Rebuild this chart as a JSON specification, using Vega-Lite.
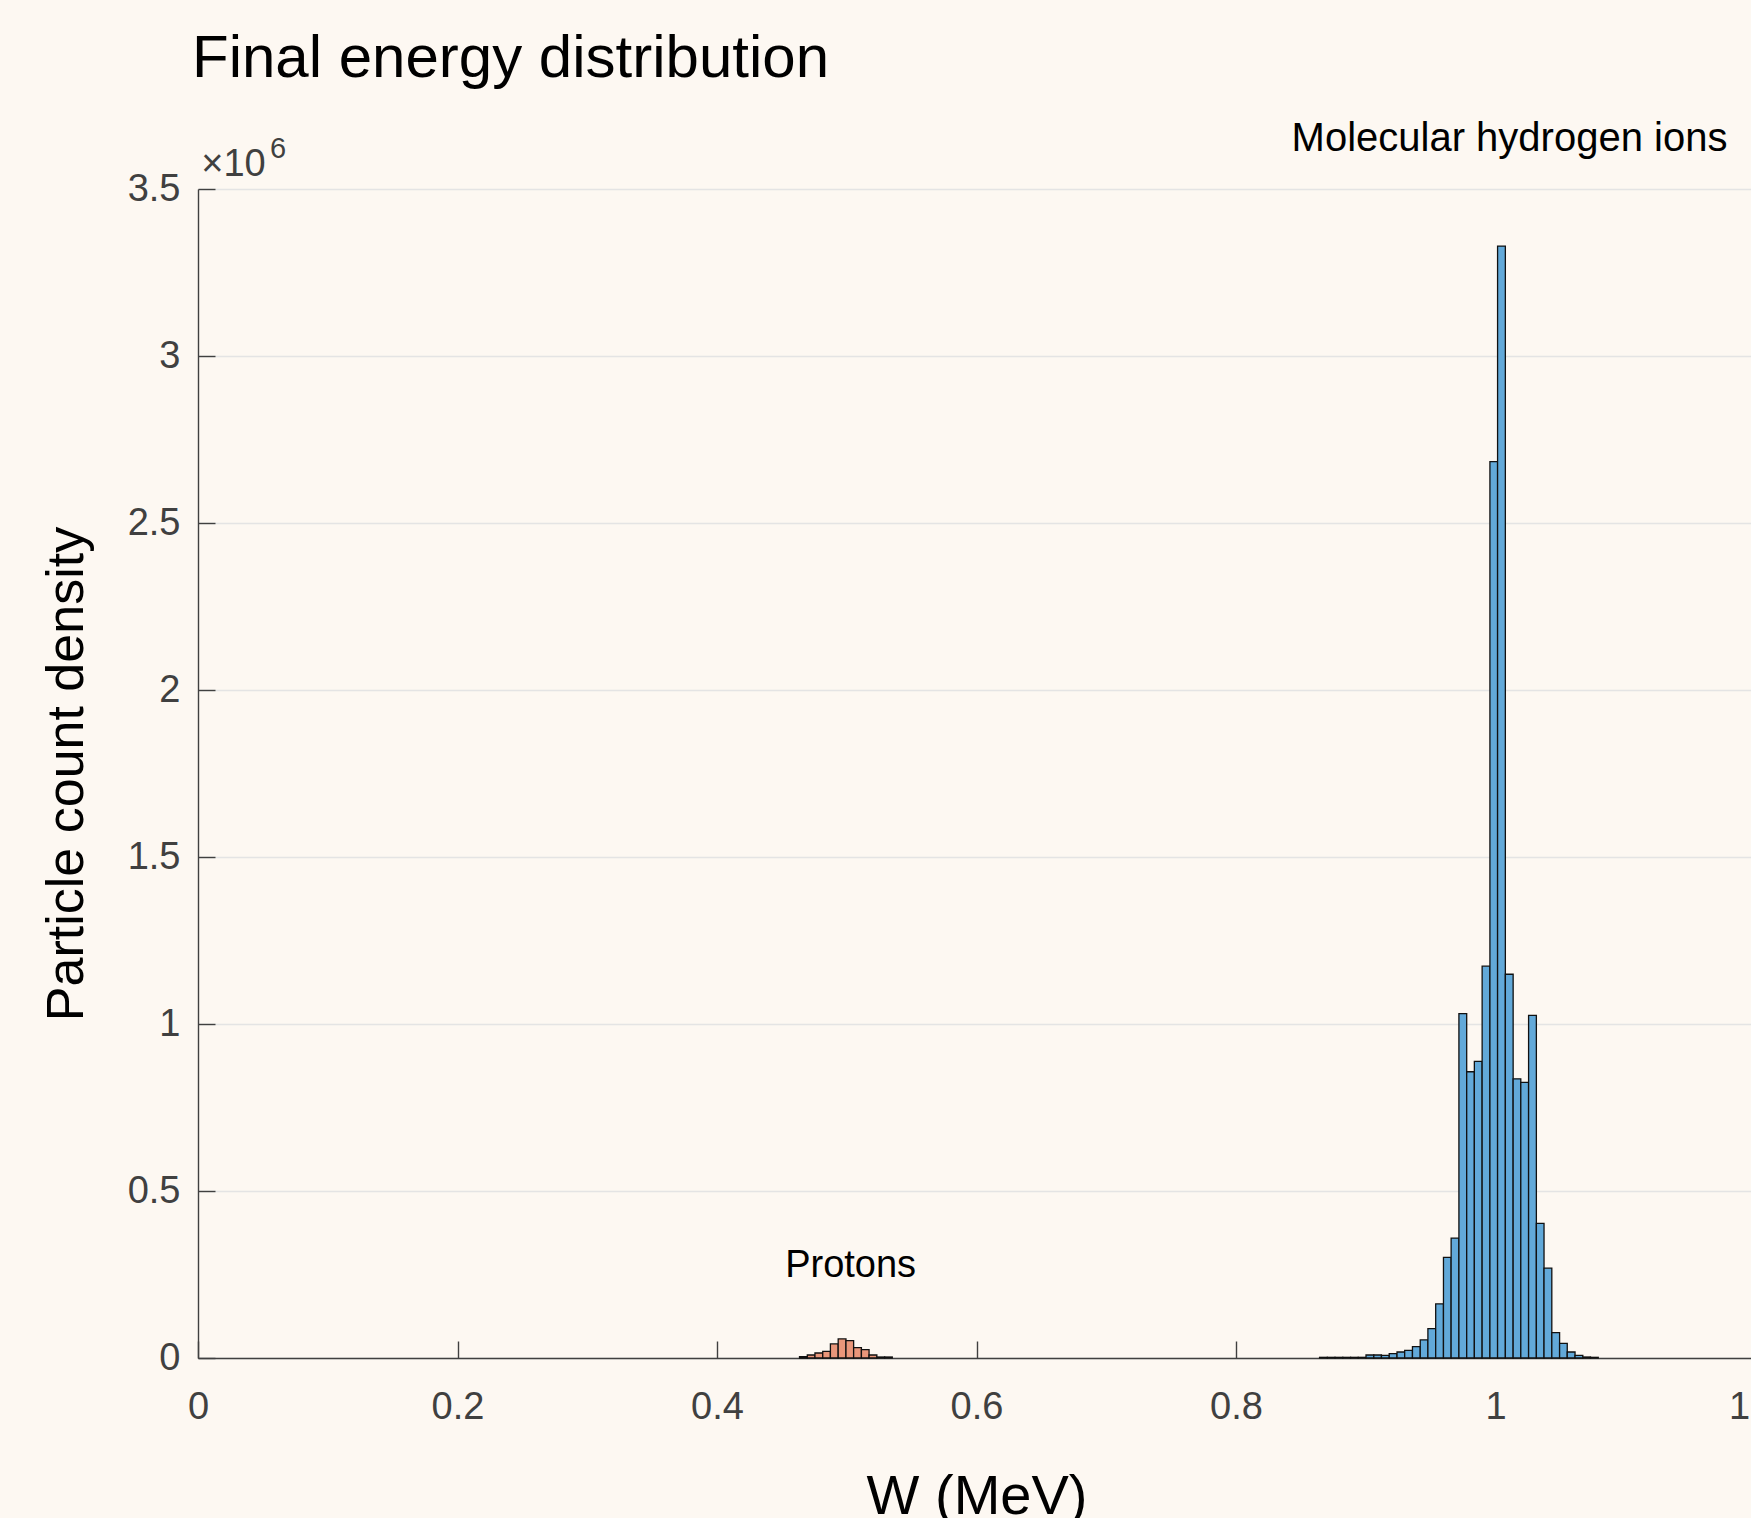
{
  "$schema": "https://vega.github.io/schema/vega-lite/v6.json",
  "autosize": {"type": "none"},
  "padding": {"left": 198, "top": 189, "right": -4, "bottom": 160},
  "width": 1557,
  "height": 1169,
  "background": "#FDF8F2",
  "title": {
    "text": "Final energy distribution",
    "anchor": "start",
    "frame": "group",
    "font": "Liberation Sans",
    "fontSize": 60,
    "fontWeight": "normal",
    "color": "#000000",
    "dx": -6,
    "offset": 29
  },
  "config": {
    "view": {"stroke": null},
    "axis": {
      "labelFont": "Liberation Sans",
      "titleFont": "Liberation Sans",
      "labelColor": "#404040",
      "titleColor": "#000000",
      "titleFontWeight": "normal",
      "domainColor": "#404040",
      "domainWidth": 1.4,
      "tickColor": "#404040",
      "tickWidth": 1.4
    }
  },
  "datasets": {
    "bins": [
      {"species": "Molecular hydrogen ions", "w0": 0.8644, "w1": 0.8704, "density": 2000},
      {"species": "Molecular hydrogen ions", "w0": 0.8704, "w1": 0.8763, "density": 2000},
      {"species": "Molecular hydrogen ions", "w0": 0.8763, "w1": 0.8823, "density": 2000},
      {"species": "Molecular hydrogen ions", "w0": 0.8823, "w1": 0.8883, "density": 2000},
      {"species": "Molecular hydrogen ions", "w0": 0.8883, "w1": 0.8942, "density": 2000},
      {"species": "Molecular hydrogen ions", "w0": 0.8942, "w1": 0.9002, "density": 2000},
      {"species": "Molecular hydrogen ions", "w0": 0.9002, "w1": 0.9062, "density": 9000},
      {"species": "Molecular hydrogen ions", "w0": 0.9062, "w1": 0.9121, "density": 9000},
      {"species": "Molecular hydrogen ions", "w0": 0.9121, "w1": 0.9181, "density": 8000},
      {"species": "Molecular hydrogen ions", "w0": 0.9181, "w1": 0.9241, "density": 13000},
      {"species": "Molecular hydrogen ions", "w0": 0.9241, "w1": 0.9300, "density": 18000},
      {"species": "Molecular hydrogen ions", "w0": 0.9300, "w1": 0.9360, "density": 23000},
      {"species": "Molecular hydrogen ions", "w0": 0.9360, "w1": 0.9420, "density": 34000},
      {"species": "Molecular hydrogen ions", "w0": 0.9420, "w1": 0.9479, "density": 54000},
      {"species": "Molecular hydrogen ions", "w0": 0.9479, "w1": 0.9539, "density": 88000},
      {"species": "Molecular hydrogen ions", "w0": 0.9539, "w1": 0.9599, "density": 162000},
      {"species": "Molecular hydrogen ions", "w0": 0.9599, "w1": 0.9658, "density": 301000},
      {"species": "Molecular hydrogen ions", "w0": 0.9658, "w1": 0.9718, "density": 359000},
      {"species": "Molecular hydrogen ions", "w0": 0.9718, "w1": 0.9778, "density": 1031000},
      {"species": "Molecular hydrogen ions", "w0": 0.9778, "w1": 0.9837, "density": 857000},
      {"species": "Molecular hydrogen ions", "w0": 0.9837, "w1": 0.9897, "density": 888000},
      {"species": "Molecular hydrogen ions", "w0": 0.9897, "w1": 0.9957, "density": 1173000},
      {"species": "Molecular hydrogen ions", "w0": 0.9957, "w1": 1.0016, "density": 2684000},
      {"species": "Molecular hydrogen ions", "w0": 1.0016, "w1": 1.0076, "density": 3329000},
      {"species": "Molecular hydrogen ions", "w0": 1.0076, "w1": 1.0136, "density": 1149000},
      {"species": "Molecular hydrogen ions", "w0": 1.0136, "w1": 1.0195, "density": 836000},
      {"species": "Molecular hydrogen ions", "w0": 1.0195, "w1": 1.0255, "density": 825000},
      {"species": "Molecular hydrogen ions", "w0": 1.0255, "w1": 1.0315, "density": 1026000},
      {"species": "Molecular hydrogen ions", "w0": 1.0315, "w1": 1.0374, "density": 403000},
      {"species": "Molecular hydrogen ions", "w0": 1.0374, "w1": 1.0434, "density": 269000},
      {"species": "Molecular hydrogen ions", "w0": 1.0434, "w1": 1.0494, "density": 76000},
      {"species": "Molecular hydrogen ions", "w0": 1.0494, "w1": 1.0553, "density": 44000},
      {"species": "Molecular hydrogen ions", "w0": 1.0553, "w1": 1.0613, "density": 18000},
      {"species": "Molecular hydrogen ions", "w0": 1.0613, "w1": 1.0673, "density": 8000},
      {"species": "Molecular hydrogen ions", "w0": 1.0673, "w1": 1.0732, "density": 3000},
      {"species": "Molecular hydrogen ions", "w0": 1.0732, "w1": 1.0792, "density": 2000},
      {"species": "Protons", "w0": 0.4636, "w1": 0.4696, "density": 4000},
      {"species": "Protons", "w0": 0.4696, "w1": 0.4755, "density": 9000},
      {"species": "Protons", "w0": 0.4755, "w1": 0.4815, "density": 15000},
      {"species": "Protons", "w0": 0.4815, "w1": 0.4874, "density": 20000},
      {"species": "Protons", "w0": 0.4874, "w1": 0.4934, "density": 42000},
      {"species": "Protons", "w0": 0.4934, "w1": 0.4994, "density": 57000},
      {"species": "Protons", "w0": 0.4994, "w1": 0.5053, "density": 52000},
      {"species": "Protons", "w0": 0.5053, "w1": 0.5113, "density": 31000},
      {"species": "Protons", "w0": 0.5113, "w1": 0.5172, "density": 25000},
      {"species": "Protons", "w0": 0.5172, "w1": 0.5232, "density": 9000},
      {"species": "Protons", "w0": 0.5232, "w1": 0.5292, "density": 3000},
      {"species": "Protons", "w0": 0.5292, "w1": 0.5351, "density": 3000}
    ]
  },
  "layer": [
    {
      "data": {"name": "bins"},
      "mark": {"type": "rect", "stroke": "#111111", "strokeWidth": 1.3},
      "encoding": {
        "x": {
          "field": "w0",
          "type": "quantitative",
          "scale": {"domain": [0, 1.2], "nice": false, "zero": false},
          "axis": {
            "title": "W (MeV)",
            "values": [0, 0.2, 0.4, 0.6, 0.8, 1, 1.2],
            "format": "~g",
            "grid": false,
            "labelFontSize": 38,
            "tickSize": -17,
            "labelPadding": 47,
            "labelFlush": false,
            "labelOverlap": false,
            "titleFontSize": 56,
            "titleBaseline": "alphabetic",
            "titleY": 155
          }
        },
        "x2": {"field": "w1"},
        "y": {
          "field": "density",
          "type": "quantitative",
          "scale": {"domain": [0, 3500000], "nice": false},
          "axis": {
            "title": "Particle count density",
            "values": [0, 500000, 1000000, 1500000, 2000000, 2500000, 3000000, 3500000],
            "labelExpr": "format(datum.value / 1000000, '~g')",
            "grid": true,
            "gridColor": "#E4E4E4",
            "gridWidth": 1.3,
            "labelFontSize": 38,
            "tickSize": -17,
            "labelPadding": 35,
            "labelFlush": false,
            "labelOverlap": false,
            "titleFontSize": 52,
            "titleBaseline": "alphabetic",
            "titleX": -116
          }
        },
        "y2": {"datum": 0},
        "color": {
          "field": "species",
          "type": "nominal",
          "scale": {"domain": ["Molecular hydrogen ions", "Protons"], "range": ["#62A9D9", "#E9967A"]},
          "legend": null
        }
      }
    },
    {
      "data": {"values": [{"label": "Protons"}]},
      "mark": {"type": "text", "font": "Liberation Sans", "fontSize": 38, "align": "center", "baseline": "alphabetic", "color": "#000000"},
      "encoding": {
        "x": {"datum": 0.503, "type": "quantitative"},
        "y": {"datum": 242500, "type": "quantitative"},
        "text": {"field": "label"}
      }
    },
    {
      "data": {"values": [{"label": "Molecular hydrogen ions"}]},
      "mark": {"type": "text", "font": "Liberation Sans", "fontSize": 40, "align": "center", "baseline": "alphabetic", "color": "#000000"},
      "encoding": {
        "x": {"datum": 1.0108, "type": "quantitative"},
        "y": {"datum": 3615000, "type": "quantitative"},
        "text": {"field": "label"}
      }
    },
    {
      "data": {"values": [{"label": "×10"}]},
      "mark": {"type": "text", "font": "Liberation Sans", "fontSize": 38, "align": "left", "baseline": "alphabetic", "color": "#404040"},
      "encoding": {
        "x": {"datum": 0.0025, "type": "quantitative"},
        "y": {"datum": 3538000, "type": "quantitative"},
        "text": {"field": "label"}
      }
    },
    {
      "data": {"values": [{"label": "6"}]},
      "mark": {"type": "text", "font": "Liberation Sans", "fontSize": 29, "align": "left", "baseline": "alphabetic", "color": "#404040"},
      "encoding": {
        "x": {"datum": 0.0555, "type": "quantitative"},
        "y": {"datum": 3594000, "type": "quantitative"},
        "text": {"field": "label"}
      }
    }
  ]
}
